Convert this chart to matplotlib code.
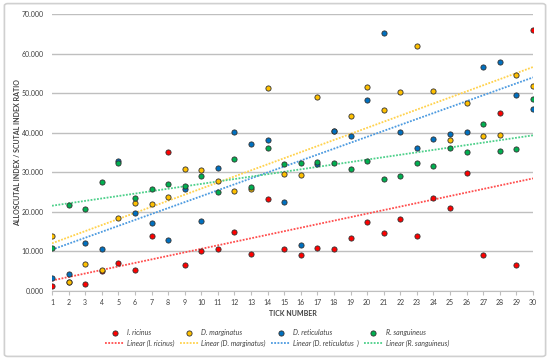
import numpy as np
import matplotlib
matplotlib.use("Agg")
import matplotlib.pyplot as plt
from matplotlib.patches import FancyBboxPatch

plt.rcParams['font.family'] = ['Lato', 'DejaVu Sans']

# tick number 1..30
ticks = list(range(1, 31))

ricinus = [1.3, 2.3, 1.8, 5.1, 7.2, 5.2, 13.8, 35.2, 6.6, 10.2,
           10.7, 14.8, 9.3, 23.3, 10.7, 9.1, 10.9, 10.6, 13.5, 17.4,
           14.6, 18.1, 13.8, 23.5, 21.1, 29.7, 9.1, 45.0, 6.6, 66.0]
marginatus = [13.8, 2.4, 6.9, 5.4, 18.5, 22.2, 22.1, 23.8, 30.8, 30.6,
              27.8, 25.3, 25.7, 51.4, 29.6, 29.2, 48.9, 40.4, 44.2, 51.6,
              45.8, 50.2, 61.8, 50.5, 38.1, 47.6, 39.2, 39.5, 54.6, 51.9]
reticulatus = [3.2, 4.2, 12.2, 10.5, 32.9, 19.8, 17.3, 12.8, 25.8, 17.6,
               31.2, 40.1, 37.1, 38.1, 22.6, 11.5, 32.1, 40.5, 39.1, 48.3,
               65.2, 40.1, 36.1, 38.4, 39.6, 40.1, 56.7, 57.9, 49.5, 45.9]
sanguineus = [10.8, 21.7, 20.7, 27.5, 32.3, 23.6, 25.7, 27.0, 26.6, 29.1,
              24.9, 33.3, 26.2, 36.2, 32.1, 32.3, 32.7, 32.4, 30.8, 32.8,
              28.4, 29.0, 32.3, 31.7, 36.1, 35.1, 42.3, 35.3, 35.9, 48.5]

names = ["I. ricinus", "D. marginatus", "D. reticulatus", "R. sanguineus"]
trend_names = ["Linear (I. ricinus)", "Linear (D. marginatus)",
               "Linear (D. reticulatus  )", "Linear (R. sanguineus)"]
series = [ricinus, marginatus, reticulatus, sanguineus]
dot_colors = ["#ff0000", "#ffc000", "#0070c0", "#00b050"]
line_colors = ["#ff4d4d", "#ffd24d", "#4d9be0", "#4dd08a"]

fig = plt.figure(figsize=(5.5, 3.6), dpi=100)
fig.patches.append(FancyBboxPatch((0.008, 0.01), 0.984, 0.98,
                                  boxstyle="round,pad=0,rounding_size=0.006",
                                  transform=fig.transFigure, fill=False,
                                  edgecolor="#d0d0d0", linewidth=1.2))
ax = fig.add_axes([52/550, 69/360, 481/550, 277/360])

x = np.array(ticks)
handles = []
for ys, nm, tn, dc, lc in zip(series, names, trend_names, dot_colors, line_colors):
    sc = ax.scatter(x, ys, s=14, color=dc, edgecolor="#303030", linewidth=0.6,
                    zorder=3, label=nm)
    k, b = np.polyfit(x, ys, 1)
    xx = np.array([x.min(), x.max()])
    ln, = ax.plot(xx, k * xx + b, color=lc, linestyle=(0, (1, 0.8)),
                  linewidth=1.3, zorder=2, label=tn)
    handles += [sc, ln]

ax.set_xlim(1, 30)
ax.set_ylim(0, 70)
ax.set_xticks(ticks)
ax.set_yticks(np.arange(0, 71, 10))
ax.set_yticklabels(["%.3f" % v for v in np.arange(0, 71, 10)])
ax.grid(axis="y", color="#bfbfbf", linewidth=1)
ax.set_axisbelow(True)
for s in ["left", "right", "top"]:
    ax.spines[s].set_visible(False)
ax.spines["bottom"].set_color("#bfbfbf")
ax.tick_params(axis="x", length=3, color="#bfbfbf", labelsize=5,
               labelcolor="#404040", pad=3)
ax.tick_params(axis="y", length=0, labelsize=5, labelcolor="#404040", pad=6)

ax.set_xlabel("TICK NUMBER", fontsize=5, fontweight="bold", color="#404040",
              labelpad=3)
ax.set_ylabel("ALLOSCUTAL INDEX / SCUTAL INDEX RATIO", fontsize=5,
              fontweight="bold", color="#404040", labelpad=0.5)

leg = fig.legend(handles=handles, ncol=4, loc="center",
                 bbox_to_anchor=(277/550, 0.061), frameon=False,
                 prop={"size": 5, "style": "italic"}, handlelength=2.7,
                 handletextpad=0.4, columnspacing=0.8, labelspacing=0.5)
for t in leg.get_texts():
    t.set_color("#404040")

fig.savefig("out.png", dpi=100)
